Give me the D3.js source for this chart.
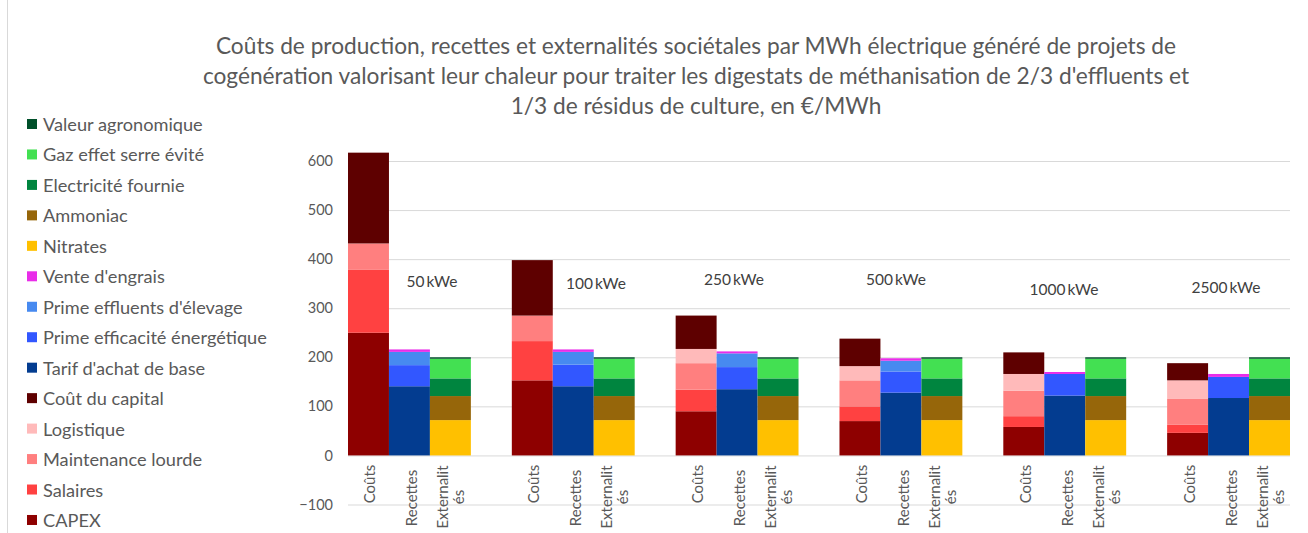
<!DOCTYPE html>
<html>
<head>
<meta charset="utf-8">
<script src="https://cdn.jsdelivr.net/npm/d3@7"></script>
<style>
  html, body { margin: 0; padding: 0; background: #fff; }
  svg { display: block; font-family: Lato, "Noto Sans", sans-serif; }
</style>
</head>
<body>
<svg id="chart" width="1308" height="533"></svg>
<script>
// Plant sizes (one cluster each) and the three columns shown per cluster
const groups = ["50 kWe", "100 kWe", "250 kWe", "500 kWe", "1000 kWe", "2500 kWe"];
const columns = ["Coûts", "Recettes", "Externalités"];

// Production costs, €/MWh
const capex       = [250, 153, 90, 70, 58, 46];
const salaires    = [129, 80, 44, 30, 22, 17];
const maintenance = [53, 52, 54, 53, 52, 53];
const logistique  = [0, 0, 29, 29, 34, 37];
const coutCapital = [185, 113, 68, 56, 44, 35];

// Revenues, €/MWh
const tarifBase   = [141, 141, 135, 128, 122, 117];
const primeEffic  = [43, 44, 45, 43, 44, 43];
const primeEffl   = [27, 26, 28, 22, 0, 0];
const venteEngr   = [5, 5, 4, 5, 4, 6];

// Societal externalities, €/MWh
const nitrates    = [72, 72, 72, 72, 72, 72];
const ammoniac    = [49, 49, 49, 49, 49, 49];
const electricite = [36, 36, 36, 36, 36, 36];
const gazSerre    = [40, 40, 40, 40, 40, 40];
const valeurAgro  = [3, 3, 3, 3, 3, 3];

const yTicks = [-100, 0, 100, 200, 300, 400, 500, 600];

const titleLines = [
  "Coûts de production, recettes et externalités sociétales par MWh électrique généré de projets de",
  "cogénération valorisant leur chaleur pour traiter les digestats de méthanisation de 2/3 d'effluents et",
  "1/3 de résidus de culture, en €/MWh"
];

// Series: name, values, column index (0 coûts, 1 recettes, 2 externalités), colour
const series = [
  { name: "CAPEX", values: capex, col: 0, color: "#8E0000" },
  { name: "Salaires", values: salaires, col: 0, color: "#FF4141" },
  { name: "Maintenance lourde", values: maintenance, col: 0, color: "#FF7F7F" },
  { name: "Logistique", values: logistique, col: 0, color: "#FFBABA" },
  { name: "Coût du capital", values: coutCapital, col: 0, color: "#5E0000" },
  { name: "Tarif d'achat de base", values: tarifBase, col: 1, color: "#033C90" },
  { name: "Prime efficacité énergétique", values: primeEffic, col: 1, color: "#3257FF" },
  { name: "Prime effluents d'élevage", values: primeEffl, col: 1, color: "#478AF0" },
  { name: "Vente d'engrais", values: venteEngr, col: 1, color: "#E92DE9" },
  { name: "Nitrates", values: nitrates, col: 2, color: "#FFC000" },
  { name: "Ammoniac", values: ammoniac, col: 2, color: "#96660A" },
  { name: "Electricité fournie", values: electricite, col: 2, color: "#00853F" },
  { name: "Gaz effet serre évité", values: gazSerre, col: 2, color: "#43E052" },
  { name: "Valeur agronomique", values: valeurAgro, col: 2, color: "#00502A" }
];

const svg = d3.select("#chart");

// chart frame edge
svg.append("line").attr("x1", 7.5).attr("x2", 7.5).attr("y1", 0).attr("y2", 533)
  .attr("stroke", "#D9D9D9").attr("stroke-width", 1);

// Scales: 23 equal slots (4 per cluster: three columns + one empty spacer)
const slots = d3.range(groups.length * 4 - 1);
const x = d3.scaleBand().domain(slots).range([348, 1290]).padding(0);
const y = d3.scaleLinear().domain([-100, 600]).range([504.5, 161]);

// Gridlines + y labels via axis
const yAxis = d3.axisLeft(y).tickValues(yTicks).tickSize(-(1290 - 348)).tickPadding(15);
const gy = svg.append("g").attr("transform", "translate(348,0)").call(yAxis);
gy.select(".domain").remove();
gy.selectAll(".tick line").attr("stroke", "#D9D9D9").attr("stroke-width", 1);
gy.selectAll(".tick text").attr("fill", "#595959").attr("font-size", 14.5)
  .attr("font-family", "Lato, sans-serif");

// Stacked bars
const offsets = groups.map(() => [0, 0, 0]);
const barG = svg.append("g");
series.forEach(s => {
  s.values.forEach((v, gi) => {
    const base = offsets[gi][s.col];
    const top = base + v;
    offsets[gi][s.col] = top;
    if (v <= 0) return;
    const slot = gi * 4 + s.col;
    barG.append("rect")
      .attr("x", x(slot))
      .attr("width", x.bandwidth())
      .attr("y", y(top))
      .attr("height", y(base) - y(top))
      .attr("fill", s.color);
  });
});

// Category labels under each column (rotated)
const labelG = svg.append("g").attr("fill", "#595959").attr("font-size", 15);
const labelSpec = [
  { lines: ["Coûts"], cy: 484, dx: [1] },
  { lines: ["Recettes"], cy: 498, dx: [2] },
  { lines: ["Externalit", "és"], cy: 497, dx: [-8, 8] }
];
groups.forEach((g, gi) => {
  labelSpec.forEach((spec, ci) => {
    const cx = x(gi * 4 + ci) + x.bandwidth() / 2;
    spec.lines.forEach((ln, li) => {
      labelG.append("text")
        .attr("transform", `translate(${cx + spec.dx[li]},${spec.cy}) rotate(-90)`)
        .attr("text-anchor", "middle")
        .attr("dominant-baseline", "central")
        .text(ln);
    });
  });
});

// Cluster captions
const captionPos = [[432, 281], [596, 283], [734, 279], [896, 279], [1064, 289], [1226, 287]];
svg.append("g").selectAll("text").data(groups).join("text")
  .attr("x", (d, i) => captionPos[i][0])
  .attr("y", (d, i) => captionPos[i][1])
  .attr("text-anchor", "middle")
  .attr("dominant-baseline", "central")
  .attr("fill", "#404040")
  .attr("font-size", 15.5)
  .text(d => d.replace(" ", "\u2009"));

// Title
svg.append("g").selectAll("text").data(titleLines).join("text")
  .attr("x", 696)
  .attr("y", (d, i) => 45 + i * 30)
  .attr("text-anchor", "middle")
  .attr("dominant-baseline", "central")
  .attr("fill", "#595959")
  .attr("font-size", 22.7)
  .text(d => d);

// Legend (top to bottom reverses the stacking order)
const legendItems = series.slice().reverse();
const leg = svg.append("g");
legendItems.forEach((s, i) => {
  const cy = 124 + i * 30.46;
  leg.append("rect").attr("x", 27).attr("y", cy - 5).attr("width", 10).attr("height", 10)
    .attr("fill", s.color);
  leg.append("text").attr("x", 43).attr("y", cy)
    .attr("dominant-baseline", "central")
    .attr("fill", "#595959").attr("font-size", 18.2)
    .text(s.name);
});
</script>
</body>
</html>
